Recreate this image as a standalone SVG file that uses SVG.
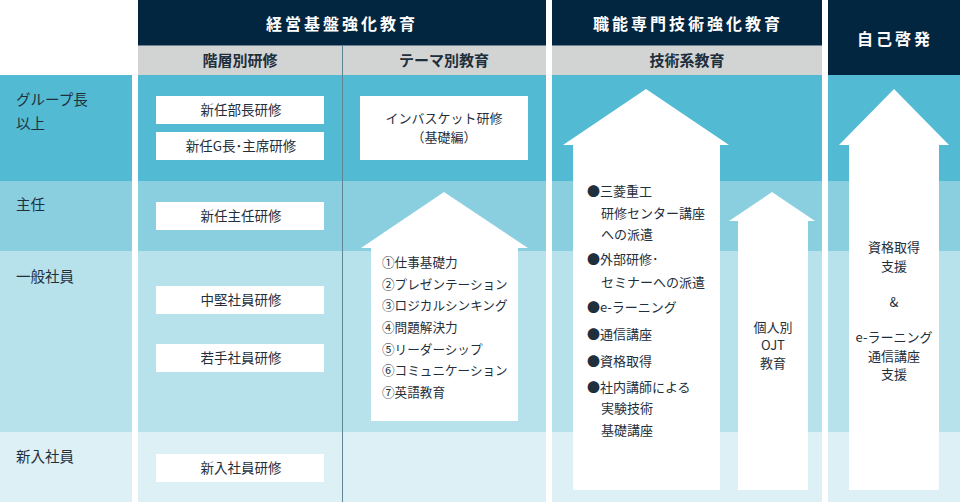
<svg xmlns="http://www.w3.org/2000/svg" width="960" height="502" viewBox="0 0 960 502">
<style>
.hd{fill:#032640}
.sub{fill:#d2d4d4}
.b1{fill:#52bad3}
.b2{fill:#89cfe0}
.b3{fill:#b8e2eb}
.b4{fill:#dcf0f5}
.box{fill:#ffffff}
.arrow{fill:#ffffff}
text{font-family:"Noto Sans CJK JP","Noto Sans",sans-serif;fill:#1f2f3c}
.ht{fill:#ffffff;font-size:16px;font-weight:700;letter-spacing:3px;text-anchor:middle}
.st{font-size:15px;font-weight:700;text-anchor:middle}
.lb{font-size:14.5px}
.bt{font-size:13.5px;text-anchor:middle}
.bs{font-size:13px;text-anchor:middle}
.lt{font-size:13px}
.tl{font-size:12.6px}
.ct{font-size:13px;text-anchor:middle}
</style>
<rect width="960" height="502" fill="#ffffff"/>
<g id="bands">
<rect class="b1" x="0" y="75" width="132" height="106"/>
<rect class="b2" x="0" y="181" width="132" height="70"/>
<rect class="b3" x="0" y="251" width="132" height="181"/>
<rect class="b4" x="0" y="432" width="132" height="70"/>
<rect class="b1" x="138" y="75" width="408" height="106"/>
<rect class="b2" x="138" y="181" width="408" height="70"/>
<rect class="b3" x="138" y="251" width="408" height="181"/>
<rect class="b4" x="138" y="432" width="408" height="70"/>
<rect class="b1" x="552" y="75" width="270" height="106"/>
<rect class="b2" x="552" y="181" width="270" height="70"/>
<rect class="b3" x="552" y="251" width="270" height="181"/>
<rect class="b4" x="552" y="432" width="270" height="70"/>
<rect class="b1" x="828" y="75" width="132" height="106"/>
<rect class="b2" x="828" y="181" width="132" height="70"/>
<rect class="b3" x="828" y="251" width="132" height="181"/>
<rect class="b4" x="828" y="432" width="132" height="70"/>
</g>
<g id="headers">
<rect class="hd" x="138" y="0" width="408" height="45"/>
<rect class="sub" x="138" y="46" width="408" height="29"/>
<rect x="138" y="45" width="408" height="1" fill="#6b8294"/>
<rect class="hd" x="552" y="0" width="270" height="45"/>
<rect class="sub" x="552" y="46" width="270" height="29"/>
<rect x="552" y="45" width="270" height="1" fill="#6b8294"/>
<rect class="hd" x="828" y="0" width="132" height="75"/>
<text class="ht" x="342" y="30">経営基盤強化教育</text>
<text class="ht" x="688" y="30">職能専門技術強化教育</text>
<text class="ht" x="895" y="45">自己啓発</text>
<text class="st" x="240" y="66">階層別研修</text>
<text class="st" x="444" y="66">テーマ別教育</text>
<text class="st" x="687" y="66">技術系教育</text>
</g>
<g id="connectors">
<line x1="342.5" y1="46" x2="342.5" y2="502" stroke="#5f8595" stroke-width="1"/>
</g>
<g id="levels">
<text class="lb" x="16" y="105">グループ長</text>
<text class="lb" x="16" y="129">以上</text>
<text class="lb" x="16" y="210">主任</text>
<text class="lb" x="16" y="282">一般社員</text>
<text class="lb" x="16" y="462">新入社員</text>
</g>
<g id="node-buchou">
<rect class="box" x="156" y="96" width="168" height="28"/>
<text class="bt" x="241" y="115">新任部長研修</text>
</g>
<g id="node-gchou">
<rect class="box" x="156" y="132" width="168" height="28"/>
<text class="bt" x="241" y="151">新任G長･主席研修</text>
</g>
<g id="node-shunin">
<rect class="box" x="156" y="202" width="168" height="28"/>
<text class="bt" x="241" y="221">新任主任研修</text>
</g>
<g id="node-chuken">
<rect class="box" x="156" y="286" width="168" height="28"/>
<text class="bt" x="241" y="305">中堅社員研修</text>
</g>
<g id="node-wakate">
<rect class="box" x="156" y="344" width="168" height="28"/>
<text class="bt" x="241" y="363">若手社員研修</text>
</g>
<g id="node-shinnyu">
<rect class="box" x="156" y="454" width="168" height="28"/>
<text class="bt" x="241" y="473">新入社員研修</text>
</g>
<g id="node-inbasket">
<rect class="box" x="360" y="96" width="168" height="64"/>
<text class="bs" x="444" y="123">インバスケット研修</text>
<text class="bs" x="444" y="142">（基礎編）</text>
</g>
<g id="node-theme">
<polygon class="arrow" points="444,192 528,248 518,248 518,421 371,421 371,248 361,248"/>
<text class="tl" x="382" y="267">①仕事基礎力</text>
<text class="tl" x="382" y="289">②プレゼンテーション</text>
<text class="tl" x="382" y="310">③ロジカルシンキング</text>
<text class="tl" x="382" y="332">④問題解決力</text>
<text class="tl" x="382" y="354">⑤リーダーシップ</text>
<text class="tl" x="382" y="375">⑥コミュニケーション</text>
<text class="tl" x="382" y="397">⑦英語教育</text>
</g>
<g id="node-tech">
<polygon class="arrow" points="646,89 729,145 720,145 720,490 573,490 573,145 563,145"/>
<text class="lt" x="587" y="196">●三菱重工</text>
<text class="lt" x="601" y="218">研修センター講座</text>
<text class="lt" x="601" y="239">への派遣</text>
<text class="lt" x="587" y="264">●外部研修･</text>
<text class="lt" x="601" y="287">セミナーへの派遣</text>
<text class="lt" x="587" y="312">●e-ラーニング</text>
<text class="lt" x="587" y="339">●通信講座</text>
<text class="lt" x="587" y="366">●資格取得</text>
<text class="lt" x="587" y="392">●社内講師による</text>
<text class="lt" x="601" y="413">実験技術</text>
<text class="lt" x="601" y="435">基礎講座</text>
</g>
<g id="node-ojt">
<polygon class="arrow" points="772,192 815,221 808,221 808,490 738,490 738,221 729,221"/>
<text class="ct" x="773" y="332">個人別</text>
<text class="ct" x="773" y="350">OJT</text>
<text class="ct" x="773" y="368">教育</text>
</g>
<g id="node-self">
<polygon class="arrow" points="894,89 949,145 939,145 939,490 849,490 849,145 839,145"/>
<text class="ct" x="894" y="252">資格取得</text>
<text class="ct" x="894" y="271">支援</text>
<text class="ct" x="894" y="307">&amp;</text>
<text class="ct" x="894" y="342">e-ラーニング</text>
<text class="ct" x="894" y="361">通信講座</text>
<text class="ct" x="894" y="379">支援</text>
</g>
</svg>
